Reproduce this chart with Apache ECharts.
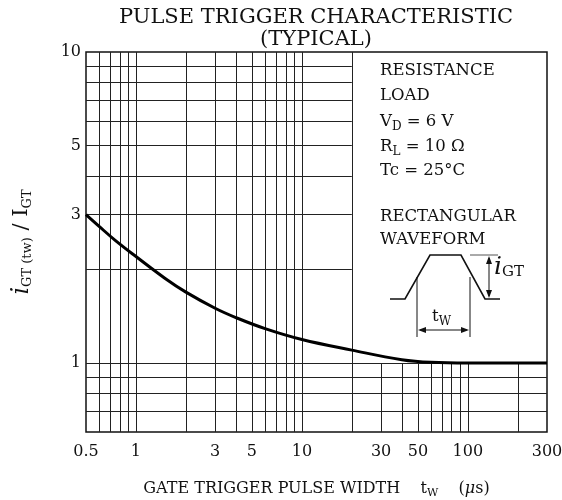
<!DOCTYPE html>
<html>
<head>
<meta charset="utf-8">
<script src="https://cdn.jsdelivr.net/npm/echarts@6/dist/echarts.min.js"></script>
<style>
  html, body { margin: 0; padding: 0; background: #fff; }
  #chart { width: 562px; height: 500px; }
</style>
</head>
<body>
<div id="chart"></div>
<script>
// pulse width tw (us) and iGT(tw)/IGT
var pulseWidth = [0.5, 0.6, 0.75, 1, 1.5, 2, 3, 4, 6, 10, 20, 40, 60, 100, 300];
var ratio = [3.0, 2.75, 2.48, 2.2, 1.87, 1.69, 1.50, 1.40, 1.29, 1.19, 1.10, 1.025, 1.005, 1.0, 1.0];

// tick labels
var xTicks = [0.5, 1, 3, 5, 10, 30, 50, 100, 300];
var yTicks = [1, 3, 5, 10];

// grid lines of the log paper
var xGrid = [0.6, 0.7, 0.8, 0.9, 1, 2, 3, 4, 5, 6, 7, 8, 9, 10, 20, 30, 40, 50, 60, 70, 80, 90, 100, 200];
var yGrid = [0.7, 0.8, 0.9, 1, 2, 3, 4, 5, 6, 7, 8, 9];

var X_MIN = 0.5, X_MAX = 300, Y_MIN = 0.6, Y_MAX = 10;
// the upper right panel (notes) has no grid
var PANEL_X = 20, PANEL_Y = 1;

var FONT = 'DejaVu Serif';

var gridSegs = [];
xGrid.forEach(function (x) {
  gridSegs.push([{ coord: [x, Y_MIN] }, { coord: [x, x > PANEL_X ? PANEL_Y : Y_MAX] }]);
});
yGrid.forEach(function (y) {
  gridSegs.push([{ coord: [X_MIN, y] }, { coord: [y > PANEL_Y ? PANEL_X : X_MAX, y] }]);
});

var chart = echarts.init(document.getElementById('chart'));

var txt = function (x, y, text, rich, extra) {
  var st = { x: x, y: y, text: text, fill: '#111', font: '16.5px "' + FONT + '"', rich: rich || {} };
  for (var k in extra) st[k] = extra[k];
  return { type: 'text', style: st, silent: true };
};
var sub = { fontFamily: FONT, fontSize: 12, padding: [10, 0, 0, 0], fill: '#111' };
var nrm = { fontFamily: FONT, fontSize: 16.5, fill: '#111' };

chart.setOption({
  backgroundColor: '#fff',
  animation: false,
  grid: {
    left: 86, right: 15, top: 52, bottom: 68,
    containLabel: false, outerBoundsMode: 'none',
    show: true, borderColor: '#111', borderWidth: 1.5, backgroundColor: 'transparent'
  },
  xAxis: {
    type: 'log', min: X_MIN, max: X_MAX,
    splitLine: { show: false }, axisTick: { show: false }, axisLine: { show: false },
    axisLabel: {
      customValues: xTicks, formatter: function (v) { return String(v); },
      fontFamily: FONT, fontSize: 16, color: '#111', margin: 12
    },
    name: '{a|GATE TRIGGER PULSE WIDTH    t}{s|W}{a|    (}{m|μ}{a|s)}',
    nameLocation: 'middle', nameGap: 47,
    nameTextStyle: {
      rich: {
        a: { fontFamily: FONT, fontSize: 16, color: '#111' },
        s: { fontFamily: FONT, fontSize: 11, color: '#111', padding: [9, 0, 0, 0] },
        m: { fontFamily: FONT, fontSize: 16, fontStyle: 'italic', color: '#111' }
      }
    }
  },
  yAxis: {
    type: 'log', min: Y_MIN, max: Y_MAX,
    splitLine: { show: false }, axisTick: { show: false }, axisLine: { show: false },
    axisLabel: {
      customValues: yTicks, formatter: function (v) { return String(v); },
      fontFamily: FONT, fontSize: 16, color: '#111', margin: 5
    },
    name: '{i|i}{s|GT (tw)}{a| / I}{s|GT}',
    nameLocation: 'middle', nameRotate: 90, nameGap: 52,
    nameTextStyle: {
      rich: {
        i: { fontFamily: FONT, fontSize: 24, fontStyle: 'italic', color: '#111' },
        a: { fontFamily: FONT, fontSize: 21, color: '#111' },
        s: { fontFamily: FONT, fontSize: 13, color: '#111', padding: [11, 0, 0, 0] }
      }
    }
  },
  series: [
    {
      type: 'line', data: [], silent: true,
      markLine: {
        silent: true, symbol: ['none', 'none'], label: { show: false },
        lineStyle: { color: '#222', width: 1, type: 'solid' },
        emphasis: { disabled: true },
        data: gridSegs
      }
    },
    {
      type: 'line', z: 5, smooth: 0.4, showSymbol: false, silent: true,
      lineStyle: { color: '#000', width: 3 },
      data: pulseWidth.map(function (x, i) { return [x, ratio[i]]; })
    }
  ],
  graphic: [
    txt(316, 7, 'PULSE TRIGGER CHARACTERISTIC', null, { font: '21px "' + FONT + '"', align: 'center' }),
    txt(316, 29, '(TYPICAL)', null, { font: '21px "' + FONT + '"', align: 'center' }),
    txt(380, 62, 'RESISTANCE'),
    txt(380, 87, 'LOAD'),
    txt(380, 111, '{n|V}{s|D}{n| = 6 V}', { n: nrm, s: sub }),
    txt(380, 136, '{n|R}{s|L}{n| = 10 Ω}', { n: nrm, s: sub }),
    txt(380, 162, 'Tc = 25°C'),
    txt(380, 208, 'RECTANGULAR'),
    txt(380, 231, 'WAVEFORM'),
    // waveform sketch
    { type: 'polyline', silent: true,
      shape: { points: [[390, 299], [405, 299], [430, 255], [461, 255], [485, 299], [500, 299]] },
      style: { stroke: '#111', lineWidth: 1.6, fill: null } },
    { type: 'line', silent: true, shape: { x1: 417, y1: 277, x2: 417, y2: 337 }, style: { stroke: '#111', lineWidth: 1 } },
    { type: 'line', silent: true, shape: { x1: 470, y1: 277, x2: 470, y2: 337 }, style: { stroke: '#111', lineWidth: 1 } },
    { type: 'line', silent: true, shape: { x1: 420, y1: 330, x2: 467, y2: 330 }, style: { stroke: '#111', lineWidth: 1 } },
    { type: 'polygon', silent: true, shape: { points: [[418, 330], [426, 327], [426, 333]] }, style: { fill: '#111' } },
    { type: 'polygon', silent: true, shape: { points: [[469, 330], [461, 327], [461, 333]] }, style: { fill: '#111' } },
    { type: 'line', silent: true, shape: { x1: 470, y1: 255, x2: 498, y2: 255 }, style: { stroke: '#555', lineWidth: 1 } },
    { type: 'line', silent: true, shape: { x1: 489, y1: 258, x2: 489, y2: 296 }, style: { stroke: '#111', lineWidth: 1 } },
    { type: 'polygon', silent: true, shape: { points: [[489, 256], [486, 264], [492, 264]] }, style: { fill: '#111' } },
    { type: 'polygon', silent: true, shape: { points: [[489, 298], [486, 290], [492, 290]] }, style: { fill: '#111' } },
    txt(432, 306, '{n|t}{s|W}', { n: nrm, s: sub }),
    txt(494, 255, '{i|i}{g|GT}', {
      i: { fontFamily: FONT, fontSize: 25, fontStyle: 'italic', fill: '#111' },
      g: { fontFamily: FONT, fontSize: 15, fill: '#111', padding: [9, 0, 0, 0] }
    })
  ]
});
</script>
</body>
</html>
